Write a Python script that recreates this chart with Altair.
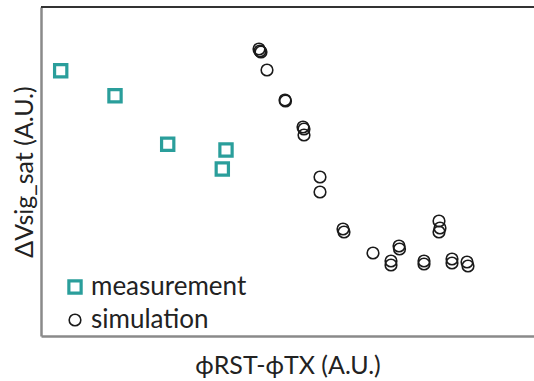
import altair as alt
import pandas as pd

# measurement (A.U.)
meas_x = [19.7, 74, 126.7, 185, 181.3]
meas_y = [265.3, 240.3, 191.7, 186, 167]

# simulation (A.U.)
sim_x = [218, 219, 220, 226, 244, 244.5, 262, 263, 263, 279, 279, 302, 303, 332,
         350, 350, 358, 358.5, 383, 383, 398, 399, 398, 411, 411, 426, 427]
sim_y = [287, 285, 284, 266, 236, 235, 209, 207, 201, 159, 144, 107, 104, 83,
         75, 71, 90, 87, 75, 72, 115, 108, 104, 77, 73, 74, 70]

series = ["measurement", "simulation"]
W, H = 493, 329

df = pd.DataFrame({
    "x": meas_x + sim_x,
    "y": meas_y + sim_y,
    "series": [series[0]] * len(meas_x) + [series[1]] * len(sim_x),
})

FONT = "Lato"

pts = alt.Chart(df).mark_point(filled=False, opacity=1).encode(
    x=alt.X("x:Q", scale=alt.Scale(domain=[0, W], nice=False, zero=False),
            axis=alt.Axis(title="ϕRST-ϕTX (A.U.)", labels=False, ticks=False, grid=False,
                          domainColor="#8a8a8a", domainWidth=2.5,
                          titleFont=FONT, titleFontSize=25, titleFontWeight="normal",
                          titleColor="#222222", titlePadding=17)),
    y=alt.Y("y:Q", scale=alt.Scale(domain=[0, H], nice=False, zero=False),
            axis=alt.Axis(title="ΔVsig_sat (A.U.)", labels=False, ticks=False, grid=False,
                          domainColor="#8a8a8a", domainWidth=2.5,
                          titleFont=FONT, titleFontSize=25, titleFontWeight="normal",
                          titleColor="#222222", titlePadding=4)),
    color=alt.Color("series:N", scale=alt.Scale(domain=series, range=["#2a9e9b", "#1a1a1a"]),
                    legend=alt.Legend(title=None, orient="none", legendX=21, legendY=267,
                                      labelFont=FONT, labelFontSize=26, labelColor="#222222",
                                      symbolSize=110, rowPadding=7, labelOffset=3,
                                      symbolFillColor="transparent", padding=0)),
    shape=alt.Shape("series:N", scale=alt.Scale(domain=series, range=["square", "circle"])),
    strokeWidth=alt.StrokeWidth("series:N", scale=alt.Scale(domain=series, range=[3.2, 1.6])),
    size=alt.Size("series:N", scale=alt.Scale(domain=series, range=[150, 135]), legend=None),
)

top = alt.Chart(df).mark_rule(color="#333333", strokeWidth=2.2).encode(
    x=alt.value(0), x2=alt.value(W), y=alt.value(0)
)

chart = alt.layer(top, pts).properties(
    width=W, height=H,
    autosize=alt.AutoSizeParams(type="none"),
    padding={"left": 41, "top": 7, "right": 0, "bottom": 45},
).configure_view(stroke=None).configure_legend(symbolStrokeColor=None)

chart.save("out.html", embed_options={"renderer": "svg", "actions": False})
